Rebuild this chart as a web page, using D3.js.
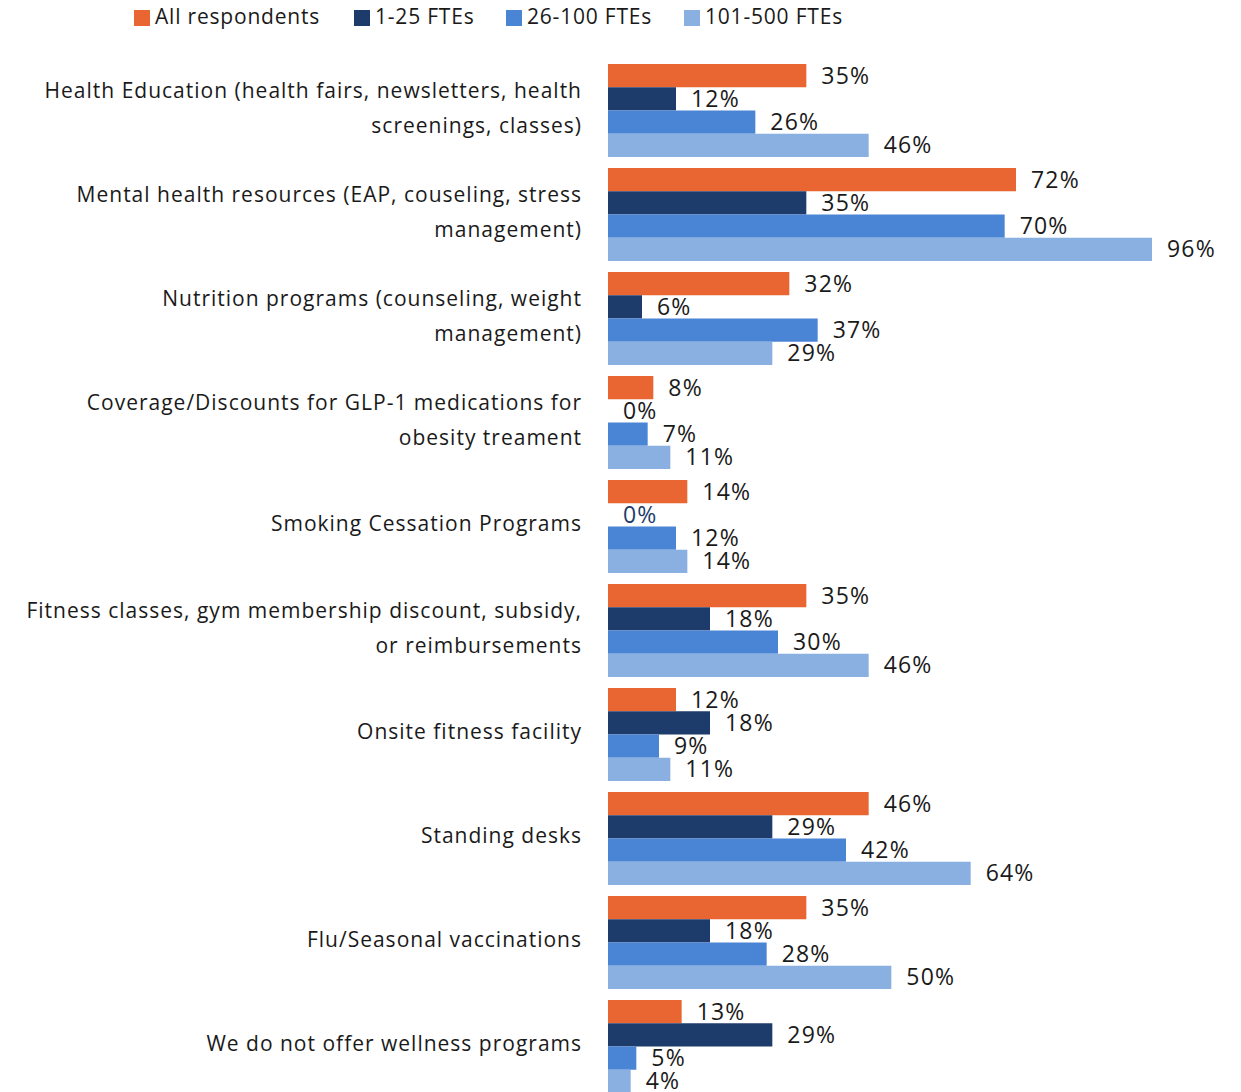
<!DOCTYPE html>
<html>
<head>
<meta charset="utf-8">
<script src="https://cdn.jsdelivr.net/npm/d3@7"></script>
<style>
  html, body { margin: 0; padding: 0; background: #fff; }
  svg { display: block; }
  text { font-family: "Open Sans", "Noto Sans", sans-serif; fill: #1a1a1a; }
</style>
</head>
<body>
<svg id="chart" width="1241" height="1092"></svg>
<script>
// Wellness programs offered, by employer size
const categories = [
  ["Health Education (health fairs, newsletters, health", "screenings, classes)"],
  ["Mental health resources (EAP, couseling, stress", "management)"],
  ["Nutrition programs (counseling, weight", "management)"],
  ["Coverage/Discounts for GLP-1 medications for", "obesity treament"],
  ["Smoking Cessation Programs"],
  ["Fitness classes, gym membership discount, subsidy,", "or reimbursements"],
  ["Onsite fitness facility"],
  ["Standing desks"],
  ["Flu/Seasonal vaccinations"],
  ["We do not offer wellness programs"]
];
const seriesNames = ["All respondents", "1-25 FTEs", "26-100 FTEs", "101-500 FTEs"];
const allRespondents = [35, 72, 32, 8, 14, 35, 12, 46, 35, 13];
const fte1to25      = [12, 35, 6, 0, 0, 18, 18, 29, 18, 29];
const fte26to100    = [26, 70, 37, 7, 12, 30, 9, 42, 28, 5];
const fte101to500   = [46, 96, 29, 11, 14, 46, 11, 64, 50, 4];
const seriesValues = [allRespondents, fte1to25, fte26to100, fte101to500];
const colors = ["#E96633", "#1E3C6B", "#4A84D5", "#8AAFE1"];

const svg = d3.select("#chart");
const x0 = 608;

const x = d3.scaleLinear().domain([0, 96]).range([x0, 1152]);
const y = d3.scaleBand()
  .domain(d3.range(categories.length))
  .range([58.5, 1098.5])
  .paddingInner(0.106)
  .paddingOuter(0.053);
const ySub = d3.scaleBand()
  .domain(d3.range(seriesNames.length))
  .range([0, y.bandwidth()]);

// Legend
const legendX = [134, 354, 506, 684];
const legend = svg.append("g");
seriesNames.forEach((name, i) => {
  legend.append("rect")
    .attr("x", legendX[i]).attr("y", 10)
    .attr("width", 16).attr("height", 16)
    .attr("fill", colors[i]);
  legend.append("text")
    .attr("x", legendX[i] + 21).attr("y", 17)
    .attr("dy", "0.35em")
    .style("font-size", "21px")
    .style("letter-spacing", "0.8px")
    .text(name);
});

// Groups
const groups = svg.selectAll("g.cat")
  .data(categories)
  .join("g")
  .attr("class", "cat")
  .attr("transform", (d, i) => `translate(0,${y(i)})`);

groups.each(function(lines, ci) {
  const g = d3.select(this);
  const mid = y.bandwidth() / 2 - 2.5;
  const lh = 35;
  lines.forEach((line, li) => {
    g.append("text")
      .attr("x", 582)
      .attr("y", mid + (li - (lines.length - 1) / 2) * lh)
      .attr("dy", "0.35em")
      .attr("text-anchor", "end")
      .style("font-size", "21px")
      .style("letter-spacing", "1px")
      .text(line);
  });
  seriesValues.forEach((vals, si) => {
    const v = vals[ci];
    g.append("rect")
      .attr("x", x(0))
      .attr("y", ySub(si))
      .attr("width", x(v) - x(0))
      .attr("height", ySub.bandwidth())
      .attr("fill", colors[si]);
    g.append("text")
      .attr("x", x(v) + 15)
      .attr("y", ySub(si) + ySub.bandwidth() / 2)
      .attr("dy", "0.35em")
      .style("font-size", "23px")
      .style("letter-spacing", "1.2px")
      .style("fill", (v === 0 && ci === 4) ? colors[1] : "#1a1a1a")
      .text(v + "%");
  });
});
</script>
</body>
</html>
